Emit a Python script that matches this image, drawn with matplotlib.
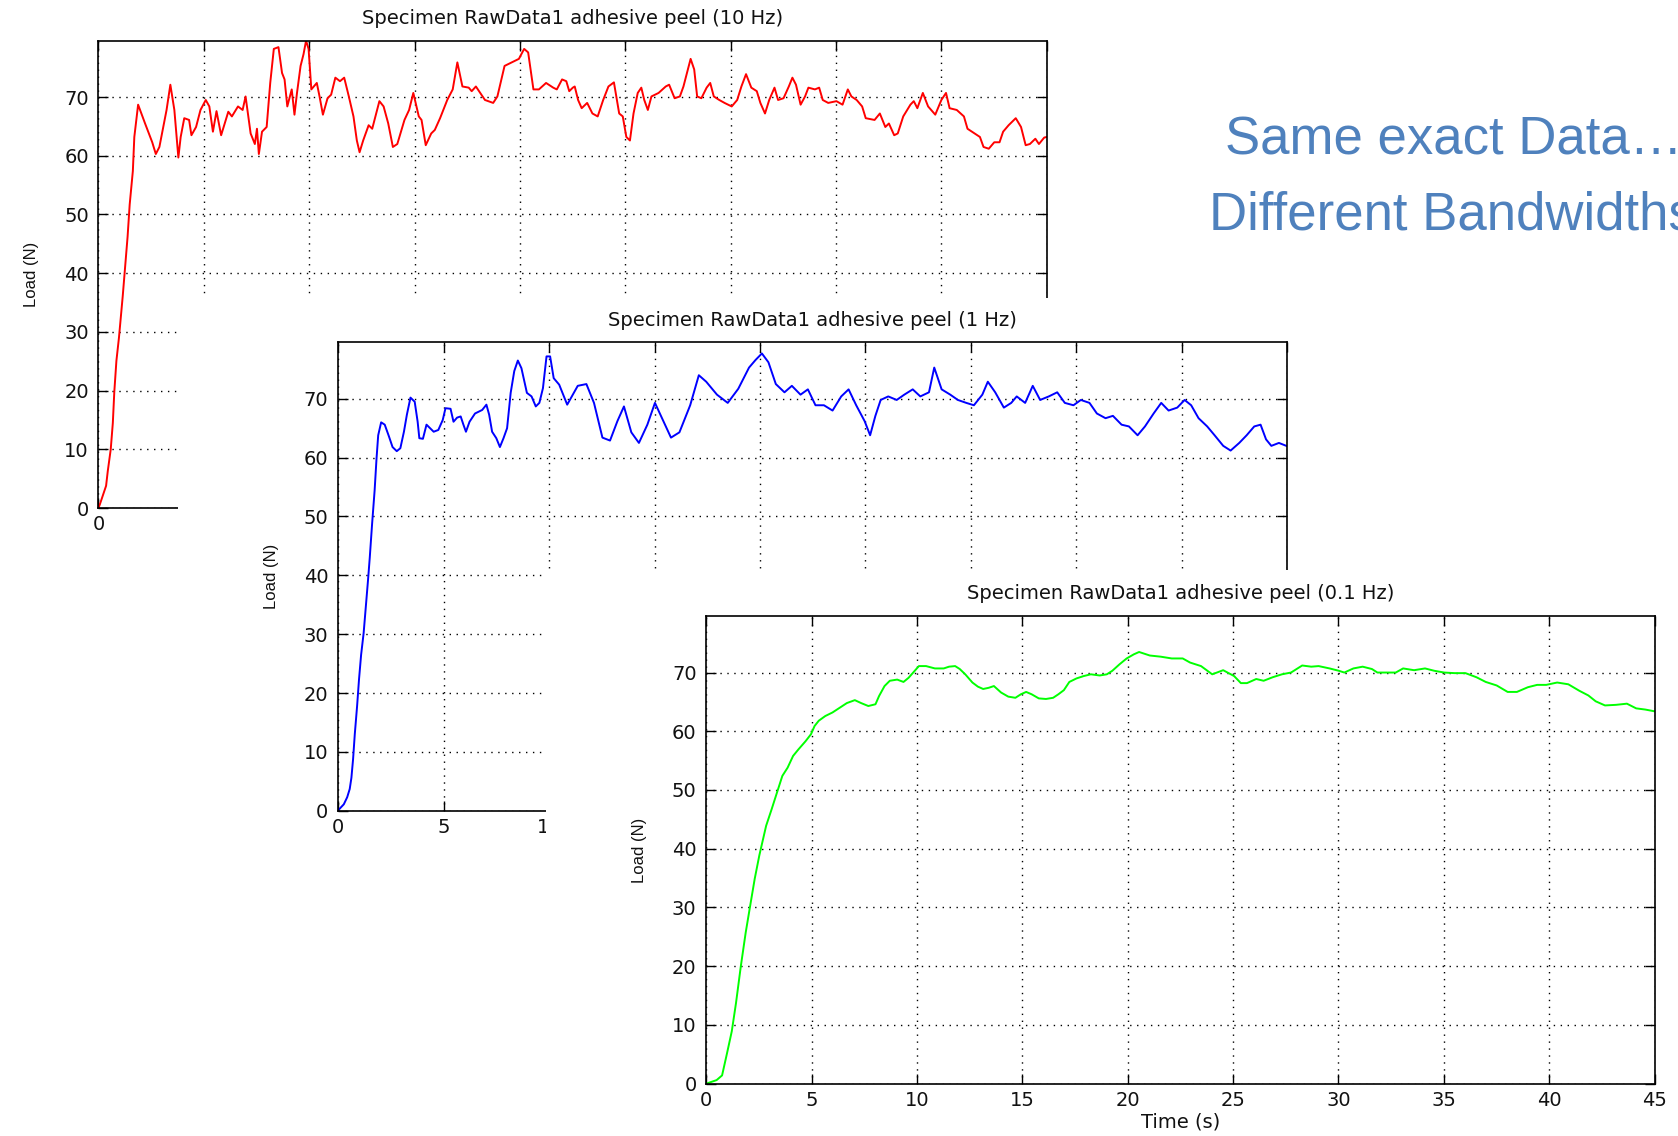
import matplotlib.pyplot as plt
from matplotlib.patches import Rectangle

# Peel test, the same raw data read back at three bandwidths
t_10hz = [0.0, 0.07, 0.36, 0.44, 0.58, 0.68, 0.75, 0.85, 0.97, 1.05, 1.15, 1.27, 1.38, 1.48, 1.63, 1.70,
          1.88, 2.21, 2.55, 2.72, 2.89, 3.23, 3.41, 3.60, 3.79, 3.90, 4.07, 4.30, 4.41, 4.63, 4.84, 5.09,
          5.26, 5.43, 5.60, 5.82, 5.99, 6.16, 6.33, 6.62, 6.84, 6.98, 7.22, 7.42, 7.52, 7.61, 7.76, 7.98,
          8.15, 8.32, 8.54, 8.71, 8.83, 8.96, 9.17, 9.30, 9.42, 9.59, 9.73, 9.85, 9.97, 10.10, 10.36,
          10.49, 10.65, 10.87, 11.04, 11.24, 11.46, 11.66, 11.88, 12.10, 12.26, 12.39, 12.56, 12.82,
          12.99, 13.33, 13.53, 13.75, 13.97, 14.18, 14.52, 14.74, 14.94, 15.20, 15.33, 15.53, 15.79,
          15.96, 16.21, 16.55, 16.81, 17.03, 17.27, 17.57, 17.71, 17.91, 18.34, 18.73, 18.93, 19.27,
          19.78, 19.95, 20.20, 20.39, 20.64, 20.90, 21.24, 21.58, 21.75, 22.00, 22.20, 22.34, 22.51,
          22.60, 22.76, 22.93, 23.19, 23.44, 23.69, 23.95, 24.20, 24.46, 24.71, 24.88, 25.05, 25.22,
          25.39, 25.59, 25.76, 25.90, 26.07, 26.24, 26.58, 26.92, 27.08, 27.34, 27.59, 27.76, 27.97,
          28.10, 28.27, 28.41, 28.61, 28.86, 29.03, 29.20, 29.46, 29.71, 30.05, 30.31, 30.51, 30.73,
          30.98, 31.24, 31.41, 31.63, 31.83, 32.08, 32.25, 32.51, 32.76, 32.93, 33.10, 33.32, 33.53,
          33.69, 34.00, 34.20, 34.37, 34.63, 35.02, 35.31, 35.56, 35.73, 35.98, 36.24, 36.41, 36.83,
          37.08, 37.34, 37.51, 37.76, 37.93, 38.19, 38.53, 38.69, 38.86, 39.12, 39.37, 39.71, 40.00,
          40.22, 40.39, 40.73, 41.07, 41.24, 41.58, 41.83, 42.00, 42.25, 42.51, 42.76, 42.93, 43.19,
          43.53, 43.78, 44.00, 44.20, 44.46, 44.63, 44.88, 45.00]
load_10hz = [0.0, 0.7, 3.8, 6.3, 10.0, 14.5, 19.8, 25.1, 29.0, 32.1, 36.1, 41.3, 46.2, 51.7, 57.4, 63.2,
             68.7, 65.5, 62.3, 60.3, 61.5, 67.8, 72.1, 67.8, 59.7, 63.2, 66.4, 66.1, 63.5, 64.9, 67.8, 69.5,
             68.4, 64.1, 67.6, 63.5, 65.5, 67.5, 66.7, 68.4, 67.8, 70.1, 63.8, 62.0, 64.6, 60.3, 64.1, 64.9,
             72.4, 78.2, 78.5, 74.1, 73.0, 68.4, 71.3, 67.0, 70.7, 75.3, 77.3, 79.6, 78.2, 71.3, 72.4,
             70.1, 67.0, 69.8, 70.4, 73.3, 72.7, 73.3, 70.1, 66.7, 62.6, 60.6, 62.6, 65.2,
             64.6, 69.3, 68.4, 65.5, 61.5, 62.0, 66.1, 67.8, 70.7, 66.7, 66.1, 61.8, 63.8,
             64.4, 66.4, 69.5, 71.3, 75.9, 71.8, 71.6, 71.0, 71.8, 69.5, 69.0, 70.1, 75.3,
             76.2, 76.5, 78.2, 77.6, 71.3, 71.3, 72.4, 71.6, 71.3, 73.0, 72.7, 71.0, 71.6,
             71.8, 69.5, 68.1, 69.0, 67.2, 66.7, 69.5, 71.8, 72.5, 67.2, 66.7, 63.2, 62.6,
             67.2, 70.7, 71.6, 69.5, 67.8, 70.1, 70.7, 71.8, 72.1, 69.8, 70.1, 71.8, 74.7,
             76.5, 74.7, 70.1, 69.8, 71.6, 72.4, 70.1, 69.5, 69.0, 68.4, 69.5, 71.8, 73.9,
             71.6, 71.0, 69.0, 67.2, 69.5, 71.6, 69.5, 69.8, 71.8, 73.3, 72.1, 68.7, 70.1,
             71.6, 71.3, 71.6, 69.5, 69.0, 69.3, 68.7, 71.3, 70.1, 69.5, 68.4, 66.4, 66.1,
             67.2, 64.9, 65.5, 63.5, 63.8, 66.7, 68.7, 69.3, 68.1, 70.7, 68.4, 67.0, 69.5,
             70.7, 68.1, 67.8, 66.7, 64.6, 63.8, 63.2, 61.5, 61.2, 62.3, 62.3, 64.1, 65.2,
             66.4, 64.9, 61.8, 62.0, 62.9, 62.0, 63.1, 63.2]

t_1hz = [0.0, 0.06, 0.27, 0.43, 0.55, 0.63, 0.71, 0.79, 0.90, 0.99, 1.09, 1.21, 1.31, 1.42, 1.50, 1.61,
         1.73, 1.82, 1.90, 2.04, 2.21, 2.41, 2.58, 2.78, 2.95, 3.12, 3.26, 3.43, 3.63, 3.77, 3.85, 4.02,
         4.19, 4.36, 4.53, 4.75, 4.96, 5.09, 5.33, 5.47, 5.64, 5.81, 5.94, 6.06, 6.23, 6.49, 6.83, 7.03,
         7.16, 7.30, 7.50, 7.67, 7.84, 8.01, 8.18, 8.35, 8.52, 8.69, 8.95, 9.17, 9.37, 9.54, 9.71, 9.88,
         10.05, 10.22, 10.48, 10.86, 11.36, 11.77, 12.13, 12.53, 12.89, 13.24, 13.55, 13.90, 14.26,
         14.66, 15.02, 15.42, 15.78, 16.18, 16.69, 17.10, 17.45, 17.96, 18.47, 18.97, 19.48, 19.79,
         20.09, 20.40, 20.75, 21.16, 21.51, 21.92, 22.27, 22.63, 23.03, 23.44, 23.85, 24.20, 24.56,
         24.96, 25.22, 25.47, 25.72, 26.08, 26.48, 26.84, 27.24, 27.60, 28.01, 28.26, 28.61, 29.02,
         29.38, 29.78, 30.14, 30.54, 30.80, 31.15, 31.56, 31.91, 32.17, 32.57, 32.93, 33.28, 33.69,
         34.09, 34.45, 34.86, 35.21, 35.62, 35.97, 36.38, 36.73, 37.14, 37.49, 37.90, 38.25, 38.66,
         39.02, 39.37, 39.78, 40.13, 40.44, 40.79, 41.20, 41.55, 41.96, 42.31, 42.72, 43.07, 43.43,
         43.73, 43.99, 44.24, 44.60, 44.95]
load_1hz = [0.0, 0.3, 1.1, 2.3, 3.7, 5.6, 8.8, 13.0, 17.8, 22.3, 26.5, 30.2, 34.5, 39.3, 43.0, 48.7,
            54.4, 59.8, 63.8, 66.0, 65.6, 63.6, 61.8, 61.1, 61.6, 64.4, 67.3, 70.2, 69.5, 66.1, 63.3, 63.2,
            65.6, 65.0, 64.4, 64.7, 66.4, 68.4, 68.3, 66.1, 66.8, 67.0, 65.6, 64.4, 66.1, 67.5, 68.1, 69.0,
            67.3, 64.4, 63.3, 61.8, 63.3, 65.0, 71.0, 74.7, 76.5, 75.2, 71.0, 70.4, 68.7, 69.3, 71.8, 77.2,
            77.2, 73.5, 72.4, 69.0, 72.2, 72.5, 69.3, 63.4, 62.9, 66.2, 68.7, 64.3, 62.5,
            65.6, 69.3, 66.2, 63.4, 64.3, 68.9, 74.0, 72.9, 70.7, 69.3, 71.7, 75.3, 76.6,
            77.7, 76.2, 72.5, 71.1, 72.2, 70.7, 71.6, 68.9, 68.9, 68.0, 70.4, 71.6, 68.9,
            66.2, 63.8, 67.1, 69.8, 70.4, 69.8, 70.7, 71.6, 70.4, 71.1, 75.3, 71.6, 70.7,
            69.8, 69.3, 68.9, 70.7, 72.9, 71.1, 68.5, 69.3, 70.4, 69.3, 72.2, 69.8, 70.4,
            71.1, 69.3, 68.9, 69.8, 69.3, 67.5, 66.7, 67.1, 65.6, 65.3, 63.8, 65.3, 67.5,
            69.3, 68.0, 68.5, 69.8, 68.9, 66.7, 65.3, 63.8, 62.0, 61.2, 62.5, 63.8, 65.3,
            65.6, 63.1, 62.0, 62.5, 62.0]

t_01hz = [0.0, 0.49, 0.75, 0.98, 1.21, 1.41, 1.64, 1.87, 2.07, 2.30, 2.52, 2.84, 3.10, 3.35, 3.61, 3.86,
          4.12, 4.37, 4.71, 4.97, 5.14, 5.34, 5.65, 5.99, 6.33, 6.67, 7.05, 7.35, 7.69, 8.03, 8.20, 8.46,
          8.71, 9.06, 9.36, 9.60, 9.82, 10.09, 10.43, 10.85, 11.27, 11.52, 11.81, 12.03, 12.29, 12.63,
          12.89, 13.14, 13.40, 13.65, 13.99, 14.33, 14.67, 14.93, 15.18, 15.44, 15.78, 16.12, 16.46,
          16.71, 16.97, 17.23, 17.57, 17.91, 18.25, 18.67, 19.01, 19.27, 19.61, 19.95, 20.29, 20.54,
          21.05, 21.57, 22.09, 22.61, 22.96, 23.48, 24.01, 24.53, 25.05, 25.37, 25.66, 26.10, 26.45,
          26.88, 27.32, 27.75, 28.28, 28.71, 29.06, 29.58, 30.02, 30.28, 30.71, 31.15, 31.59, 31.85,
          32.72, 33.07, 33.59, 34.11, 34.55, 35.02, 35.51, 36.03, 36.55, 36.99, 37.51, 38.03, 38.47,
          38.99, 39.43, 39.86, 40.38, 40.91, 41.43, 41.86, 42.21, 42.65, 43.17, 43.69, 44.13, 44.56, 45.00]
load_01hz = [0.0, 0.6, 1.4, 5.1, 8.9, 13.7, 20.0, 25.7, 30.0, 34.9, 38.9, 43.9, 46.7, 49.5, 52.4, 53.8,
             55.8, 56.9, 58.3, 59.5, 60.9, 61.8, 62.6, 63.2, 64.0, 64.8, 65.3, 64.8, 64.3, 64.6, 66.0, 67.7,
             68.6, 68.8, 68.4, 69.1, 70.0, 71.1, 71.1, 70.7, 70.7, 71.0, 71.1, 70.6, 69.7, 68.3,
             67.6, 67.2, 67.4, 67.7, 66.6, 65.9, 65.7, 66.3, 66.7, 66.3, 65.6, 65.5, 65.7,
             66.3, 67.0, 68.4, 69.0, 69.4, 69.7, 69.5, 69.7, 70.3, 71.4, 72.4, 73.1, 73.5,
             72.9, 72.7, 72.4, 72.4, 71.7, 71.1, 69.7, 70.4, 69.4, 68.2, 68.2, 68.9, 68.6,
             69.2, 69.7, 70.0, 71.2, 71.0, 71.1, 70.7, 70.3, 70.0, 70.7, 71.0, 70.6, 70.0,
             70.0, 70.7, 70.4, 70.7, 70.3, 70.0, 69.9, 69.9, 69.2, 68.4, 67.8, 66.7, 66.7,
             67.5, 67.9, 67.9, 68.3, 68.0, 66.9, 66.1, 65.1, 64.4, 64.5, 64.7, 63.9, 63.7, 63.4]

titles = ['Specimen RawData1 adhesive peel (10 Hz)',
          'Specimen RawData1 adhesive peel (1 Hz)',
          'Specimen RawData1 adhesive peel (0.1 Hz)']
colores = ['#ff0000', '#0000ff', '#00ff00']
series = [(t_10hz, load_10hz), (t_1hz, load_1hz), (t_01hz, load_01hz)]
x_ticks = list(range(0, 46, 5))
y_ticks = list(range(0, 71, 10))
# Etiquetas del eje x que quedan visibles (el resto queda bajo la ventana siguiente)
x_visibles = [1, 3, len(x_ticks)]
con_xlabel = [False, False, True]

# Posiciones de las tres ventanas (fracciones de la figura) - cada una tapa a la anterior
posiciones = [[0.0587, 0.5527, 0.5651, 0.4115],
              [0.2015, 0.2863, 0.5657, 0.4124],
              [0.4209, 0.0461, 0.5651, 0.4115]]
# Rectangulos blancos (fondo de ventana) de las graficas 2 y 3
fondos = [None, (0.1059, 0.0, 0.8941, 0.7373), (0.3253, 0.0, 0.6747, 0.4981)]

fig = plt.figure(figsize=(16.78, 11.36), dpi=100)
fig.patch.set_facecolor('white')

tick_font = {'family': 'DejaVu Sans', 'size': 14}
negro = '#111111'

for i in range(3):
    if fondos[i] is not None:
        x0, y0, w, h = fondos[i]
        fig.add_artist(Rectangle((x0, y0), w, h, transform=fig.transFigure,
                                 facecolor='white', edgecolor='none', zorder=2 * i + 0.5))
    ax = fig.add_axes(posiciones[i], zorder=2 * i + 1)
    t, y = series[i]
    ax.plot(t, y, color=colores[i], linewidth=1.4)
    ax.set_xlim(0, 45)
    ax.set_ylim(0, 79.6)
    ax.set_xticks(x_ticks)
    ax.set_xticklabels([str(v) if k < x_visibles[i] else '' for k, v in enumerate(x_ticks)])
    ax.set_yticks(y_ticks)
    ax.grid(True, color='black', linestyle=(0, (1, 4)), linewidth=1.0)
    ax.tick_params(direction='in', length=7, width=1.0, top=True, right=True, colors='black')
    ax.tick_params(axis='x', pad=5)
    ax.tick_params(axis='y', pad=7)
    for lab in ax.get_xticklabels() + ax.get_yticklabels():
        lab.set_fontfamily('DejaVu Sans')
        lab.set_fontsize(14)
        lab.set_color(negro)
    for s in ax.spines.values():
        s.set_linewidth(1.2)
        s.set_color('black')
    ax.set_title(titles[i], fontdict=tick_font, pad=12, color=negro)
    ax.set_ylabel('Load (N)', family='Liberation Sans', fontsize=12, color=negro)
    ax.yaxis.set_label_coords(-0.0626, 0.5)
    if con_xlabel[i]:
        ax.set_xlabel('Time (s)', fontdict=tick_font, labelpad=2, color=negro)

# Texto de la diapositiva (cortado por el borde derecho, como en el original)
azul = '#4f81bd'
fig.text(0.7302, 0.8644, 'Same exact Data…', ha='left', va='baseline',
         fontsize=38, family='Liberation Sans', color=azul, zorder=10)
fig.text(0.7207, 0.7982, 'Different Bandwidths', ha='left', va='baseline',
         fontsize=38, family='Liberation Sans', color=azul, zorder=10)

plt.savefig('out.png', dpi=100)
